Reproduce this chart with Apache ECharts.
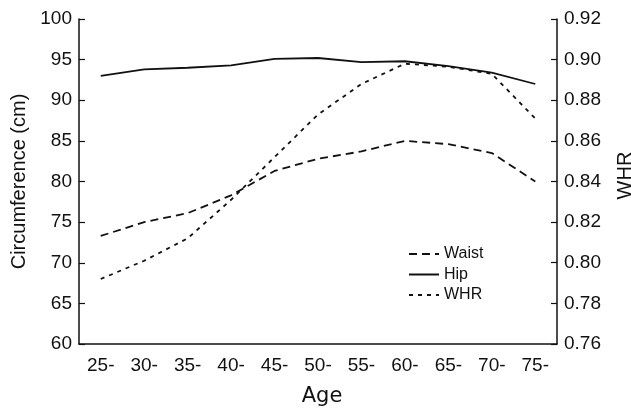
<!DOCTYPE html>
<html>
<head>
<meta charset="utf-8">
<script src="https://cdn.jsdelivr.net/npm/echarts@6/dist/echarts.min.js"></script>
<style>
html,body{margin:0;padding:0;background:#fff;}
#chart{width:631px;height:408px;}
</style>
</head>
<body>
<div id="chart"></div>
<script>
const categories = ['25-','30-','35-','40-','45-','50-','55-','60-','65-','70-','75-'];
const waist = [73.3, 75.0, 76.1, 78.3, 81.3, 82.8, 83.7, 85.0, 84.6, 83.5, 80.0];
const hip   = [93.0, 93.8, 94.0, 94.3, 95.1, 95.2, 94.7, 94.8, 94.2, 93.4, 92.0];
const whr   = [0.792, 0.801, 0.812, 0.831, 0.852, 0.873, 0.888, 0.898, 0.8965, 0.893, 0.871];

const ink = '#111';
const font = 'Liberation Sans, Arial, Helvetica, sans-serif';

const chart = echarts.init(document.getElementById('chart'), null, {renderer:'canvas'});
chart.setOption({
  animation: false,
  backgroundColor: '#fff',
  grid: {left: 79, right: 74, top: 19, bottom: 64, containLabel: false, outerBoundsMode: 'none'},
  legend: {
    orient: 'vertical',
    left: 403, top: 241,
    itemWidth: 30, itemHeight: 14, itemGap: 4.5,
    itemStyle: {opacity: 0},
    textStyle: {fontFamily: font, fontSize: 16, color: ink, lineHeight: 16},
    data: ['Waist','Hip','WHR']
  },
  xAxis: {
    type: 'category',
    data: categories,
    boundaryGap: true,
    name: 'Age',
    nameLocation: 'middle',
    nameGap: 42,
    nameTextStyle: {fontFamily: 'DejaVu Sans, sans-serif', fontSize: 21, color: ink, padding: [0, 0, 0, 8]},
    axisLine: {lineStyle: {color: ink, width: 1.5}},
    axisTick: {inside: true, length: 6, lineStyle: {color: ink, width: 1.2}},
    axisLabel: {fontFamily: font, fontSize: 19, color: ink, margin: 12},
    splitLine: {show: false}
  },
  yAxis: [
    {
      type: 'value', min: 60, max: 100, interval: 5,
      name: 'Circumference (cm)',
      nameLocation: 'middle', nameRotate: 90, nameGap: 44,
      nameTextStyle: {fontFamily: font, fontSize: 20, color: ink},
      axisLine: {show: true, lineStyle: {color: ink, width: 1.5}},
      axisTick: {show: true, inside: true, length: 6, lineStyle: {color: ink, width: 1.2}},
      axisLabel: {fontFamily: font, fontSize: 19, color: ink, margin: 7},
      splitLine: {show: false}
    },
    {
      type: 'value', min: 0.76, max: 0.92, interval: 0.02,
      name: 'WHR',
      nameLocation: 'middle', nameRotate: 90, nameGap: 58,
      nameTextStyle: {fontFamily: font, fontSize: 20, color: ink, padding: [0, 0, 0, 12]},
      axisLine: {show: true, lineStyle: {color: ink, width: 1.5}},
      axisTick: {show: true, inside: true, length: 6, lineStyle: {color: ink, width: 1.2}},
      axisLabel: {fontFamily: font, fontSize: 19, color: ink, margin: 7,
        formatter: v => v.toFixed(2)},
      splitLine: {show: false}
    }
  ],
  series: [
    {
      name: 'Waist', type: 'line', data: waist, yAxisIndex: 0,
      symbol: 'none', smooth: false,
      lineStyle: {color: ink, width: 1.8, type: [8, 5]},
      itemStyle: {color: ink}
    },
    {
      name: 'Hip', type: 'line', data: hip, yAxisIndex: 0,
      symbol: 'none',
      lineStyle: {color: ink, width: 1.8, type: 'solid'},
      itemStyle: {color: ink}
    },
    {
      name: 'WHR', type: 'line', data: whr, yAxisIndex: 1,
      symbol: 'none',
      lineStyle: {color: ink, width: 1.8, type: [4, 5]},
      itemStyle: {color: ink}
    }
  ]
});
</script>
</body>
</html>
